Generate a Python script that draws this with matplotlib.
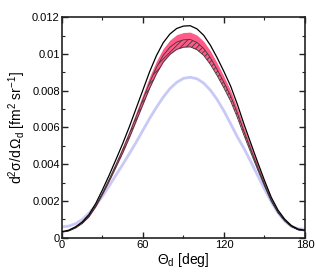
import numpy as np
import matplotlib
matplotlib.use("Agg")
import matplotlib.pyplot as plt
from matplotlib.ticker import MultipleLocator

plt.rcParams["font.family"] = ["Liberation Sans", "DejaVu Sans"]
plt.rcParams["mathtext.fontset"] = "custom"
plt.rcParams["mathtext.rm"] = "Liberation Sans"
plt.rcParams["mathtext.it"] = "Liberation Sans"
plt.rcParams["hatch.linewidth"] = 0.6

# angles (deg) and cross sections
theta = [0, 5, 10, 15, 20, 25, 30, 35, 40, 45, 50, 55, 60, 65, 70, 75, 80, 85, 90,
         95, 100, 105, 110, 115, 120, 125, 130, 135, 140, 145, 150, 155, 160, 165,
         170, 175, 180]

black_curve = [0.00032, 0.00040, 0.00058, 0.00085, 0.00125, 0.00185, 0.00260, 0.00340,
               0.00425, 0.00512, 0.00605, 0.00705, 0.00805, 0.00905, 0.00992, 0.01062,
               0.01110, 0.01140, 0.01153, 0.01155, 0.01138, 0.01103, 0.01048, 0.00980,
               0.00905, 0.00825, 0.00725, 0.00615, 0.00512, 0.00410, 0.00312, 0.00220,
               0.00150, 0.00100, 0.00065, 0.00046, 0.00040]

pink_upper = [0.00031, 0.00039, 0.00056, 0.00082, 0.00121, 0.00179, 0.00252, 0.00330,
              0.00412, 0.00497, 0.00587, 0.00684, 0.00781, 0.00878, 0.00962, 0.01030,
              0.01077, 0.01106, 0.01118, 0.01120, 0.01104, 0.01070, 0.01017, 0.00951,
              0.00878, 0.00800, 0.00703, 0.00597, 0.00497, 0.00398, 0.00303, 0.00213,
              0.00146, 0.00097, 0.00063, 0.00045, 0.00039]

hatch_upper = [0.00030, 0.00037, 0.00054, 0.00079, 0.00117, 0.00173, 0.00243, 0.00318,
               0.00397, 0.00479, 0.00566, 0.00659, 0.00753, 0.00846, 0.00928, 0.00993,
               0.01038, 0.01066, 0.01078, 0.01080, 0.01064, 0.01031, 0.00980, 0.00916,
               0.00846, 0.00771, 0.00678, 0.00575, 0.00479, 0.00383, 0.00292, 0.00206,
               0.00140, 0.00094, 0.00061, 0.00043, 0.00037]

band_lower = [0.00029, 0.00036, 0.00052, 0.00077, 0.00113, 0.00167, 0.00234, 0.00306,
              0.00383, 0.00461, 0.00545, 0.00635, 0.00725, 0.00815, 0.00893, 0.00956,
              0.00999, 0.01026, 0.01038, 0.01040, 0.01024, 0.00993, 0.00943, 0.00882,
              0.00815, 0.00743, 0.00653, 0.00554, 0.00461, 0.00369, 0.00281, 0.00198,
              0.00135, 0.00090, 0.00059, 0.00041, 0.00036]

blue_curve = [0.00058, 0.00062, 0.00075, 0.00098, 0.00132, 0.00175, 0.00225, 0.00281,
              0.00340, 0.00398, 0.00458, 0.00520, 0.00585, 0.00650, 0.00710, 0.00765,
              0.00812, 0.00846, 0.00868, 0.00874, 0.00866, 0.00842, 0.00803, 0.00752,
              0.00690, 0.00620, 0.00548, 0.00484, 0.00412, 0.00338, 0.00265, 0.00195,
              0.00135, 0.00090, 0.00060, 0.00048, 0.00045]

fig = plt.figure(figsize=(3.16, 2.73), dpi=100)
ax = fig.add_axes([0.196, 0.130, 0.769, 0.806])

ax.plot(theta, blue_curve, color="#c9c9f7", lw=2.0, zorder=1)
ax.fill_between(theta, band_lower, pink_upper, color="#ff5a88", lw=0, zorder=2)
ax.fill_between(theta, band_lower, hatch_upper, facecolor="none", edgecolor="#3a3a3a",
                hatch="//////", lw=0.6, zorder=3)
ax.plot(theta, black_curve, color="black", lw=0.9, zorder=4)

ax.set_xlim(0, 180)
ax.set_ylim(0, 0.012)
ax.set_xticks([0, 60, 120, 180])
ax.set_xticklabels(["0", "60", "120", "180"])
ax.xaxis.set_minor_locator(MultipleLocator(30))
ax.set_yticks([0, 0.002, 0.004, 0.006, 0.008, 0.01, 0.012])
ax.set_yticklabels(["0", "0.002", "0.004", "0.006", "0.008", "0.01", "0.012"])
ax.yaxis.set_minor_locator(MultipleLocator(0.001))

ax.tick_params(which="both", direction="in", top=True, right=True, labelsize=8,
               pad=1.5, colors="#222222", labelcolor="black")
ax.tick_params(which="major", length=4, width=1.0)
ax.tick_params(which="minor", length=2.5, width=0.8)
for s in ax.spines.values():
    s.set_linewidth(1.2)
    s.set_color("#222222")

ax.set_xlabel(r"$\Theta_{\rm d}$ [deg]", fontsize=10, labelpad=1)
ax.set_ylabel(r"d$^2\sigma$/d$\,\Omega_{\rm d}$ [fm$^2$ sr$^{-1}$]", fontsize=10,
              labelpad=3)

fig.savefig("out.png", dpi=100)
